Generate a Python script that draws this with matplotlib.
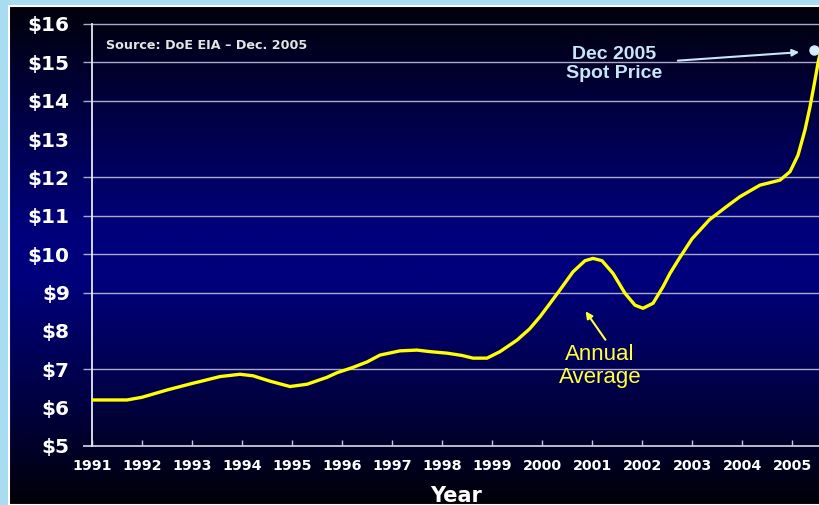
import numpy as np
import matplotlib
matplotlib.use('Agg')
import matplotlib.pyplot as plt
from matplotlib.colors import LinearSegmentedColormap
from matplotlib.patches import Rectangle

# Natural gas price, annual average
years = [1991.0, 1991.7, 1992.0, 1992.5, 1993.0, 1993.16, 1993.56, 1993.96,
         1994.22, 1994.56, 1994.96, 1995.3, 1995.7, 1995.9, 1996.2, 1996.5,
         1996.76, 1997.16, 1997.5, 1997.76, 1998.1, 1998.4, 1998.62, 1998.9,
         1999.16, 1999.5, 1999.75, 1999.96, 2000.15, 2000.36, 2000.62, 2000.86,
         2001.02, 2001.2, 2001.42, 2001.66, 2001.86, 2002.02, 2002.22, 2002.42,
         2002.56, 2002.75, 2003.0, 2003.35, 2003.7, 2003.96, 2004.36, 2004.76,
         2004.96, 2005.12, 2005.26, 2005.36, 2005.46, 2005.52, 2005.6]
prices = [6.20, 6.20, 6.27, 6.46, 6.63, 6.68, 6.81, 6.87,
          6.83, 6.69, 6.55, 6.61, 6.79, 6.91, 7.04, 7.19,
          7.37, 7.48, 7.50, 7.46, 7.42, 7.36, 7.29, 7.29,
          7.46, 7.76, 8.05, 8.37, 8.70, 9.07, 9.54, 9.83,
          9.89, 9.83, 9.50, 8.98, 8.67, 8.59, 8.72, 9.15,
          9.50, 9.90, 10.40, 10.90, 11.25, 11.50, 11.80, 11.93,
          12.15, 12.58, 13.24, 13.84, 14.54, 14.98, 15.45]

# Dec 2005 spot price point
spot_year = 2005.44
spot_price = 15.32

tick_years = list(range(1991, 2006))
tick_dollars = list(range(5, 17))
grid_dollars = [7, 9, 10, 11, 12, 14, 15, 16]

fig = plt.figure(figsize=(8.2, 5.05), dpi=100, facecolor='#a8dcf0')

# dark blue gradient panel
panel = fig.add_axes([9 / 820, 0, 1 - 9 / 820, 499 / 505])
cmap = LinearSegmentedColormap.from_list('bg', [(0.0, '#00000a'), (0.2, '#000040'),
                                                (0.45, '#00007c'), (0.55, '#00007c'),
                                                (0.8, '#000040'), (1.0, '#000008')])
grad = np.linspace(0, 1, 256).reshape(-1, 1)
panel.imshow(grad, cmap=cmap, aspect='auto', extent=[0, 1, 0, 1])
panel.axis('off')
fig.patches.append(Rectangle((9 / 820, 0), 1, 499 / 505, transform=fig.transFigure,
                             fill=False, edgecolor='white', lw=1.5))

ax = fig.add_axes([92 / 820, 59 / 505, 728 / 820, 422 / 505])
ax.patch.set_alpha(0)
ax.set_xlim(1991, 1991 + 728 / 50)
ax.set_ylim(5, 16)

grid_col = '#aaaacc'
x0 = 1991 - 9 / 50
ax.hlines(grid_dollars, x0, 2006, color=grid_col, lw=1, clip_on=False, zorder=1)
ax.hlines(5, x0, 2006, color='#c8c8dc', lw=1.3, clip_on=False, zorder=2)

for s in ['top', 'right', 'bottom']:
    ax.spines[s].set_visible(False)
ax.spines['left'].set_color('#e8e8f0')
ax.spines['left'].set_linewidth(1.3)

ax.set_xticks(tick_years)
ax.set_xticklabels([str(y) for y in tick_years])
ax.tick_params(axis='x', direction='in', length=4, color='#c8c8dc', width=1,
               pad=9, labelcolor='white')
ax.set_yticks(tick_dollars)
ax.set_yticklabels(['$%d' % d for d in tick_dollars])
ax.tick_params(axis='y', length=0, pad=16, labelcolor='white')
for lab in ax.get_xticklabels():
    lab.set_fontfamily('DejaVu Sans')
    lab.set_fontweight('bold')
    lab.set_fontsize(10.3)
for lab in ax.get_yticklabels():
    lab.set_fontfamily('DejaVu Sans')
    lab.set_fontweight('bold')
    lab.set_fontsize(14.5)

ax.set_xlabel('Year', color='white', fontsize=15, fontweight='bold', labelpad=10)

ax.plot(years, prices, color='#ffff00', lw=2.4, solid_joinstyle='round',
        solid_capstyle='round', zorder=3)
ax.plot(spot_year, spot_price, 'o', color='#d8eefa', ms=6.5, clip_on=False, zorder=4)

ax.text(1991.28, 15.45, 'Source: DoE EIA \u2013 Dec. 2005', color='#e4e4e4',
        fontsize=9.2, fontweight='bold', va='center', ha='left')

ax.annotate('', xy=(2005.2, 15.27), xytext=(2002.66, 15.04),
            arrowprops=dict(arrowstyle='-|>', color='#c8e6f5', lw=1.5,
                            mutation_scale=10))
ax.text(2001.44, 14.96, 'Dec 2005\nSpot Price', color='#c8e6f5', fontsize=14,
        fontweight='bold', family='Liberation Sans', ha='center', va='center',
        linespacing=1.15)

ax.annotate('', xy=(2000.84, 8.57), xytext=(2001.3, 7.71),
            arrowprops=dict(arrowstyle='-|>', color='#ffff40', lw=1.5,
                            mutation_scale=10))
ax.text(2001.16, 7.08, 'Annual\nAverage', color='#ffff40', fontsize=16,
        family='Liberation Sans', ha='center', va='center', linespacing=1.1)

fig.savefig('out.png', dpi=100, facecolor=fig.get_facecolor())
